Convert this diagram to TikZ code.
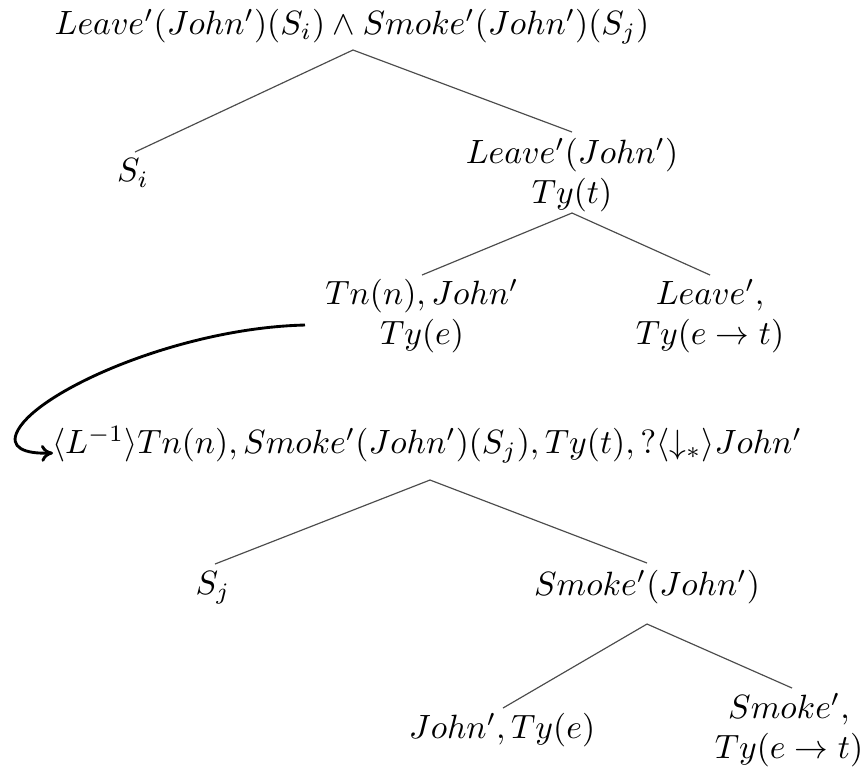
\documentclass[tikz,border=0pt]{standalone}
\usetikzlibrary{arrows.meta}
\begin{document}
\begin{tikzpicture}[x=0.297pt,y=-0.297pt,
  lbl/.style={inner sep=0pt,align=center},
  edge/.style={draw=black!70,line width=0.35pt},
  link/.style={draw=black,line width=0.85pt,-{To[length=3.5pt,width=5pt]}}]
\useasboundingbox (0,0) rectangle (865,767);
% nodes
\node[lbl] (top) at (352,27) {$Leave'(John')(S_i)\wedge Smoke'(John')(S_j)$};
\node[lbl] (si) at (133,173) {$S_i$};
\node[lbl] (lj) at (572,175) {$Leave'(John')$\\$Ty(t)$};
\node[lbl] (tn) at (422,316) {$Tn(n), John'$\\$Ty(e)$};
\node[lbl] (lv) at (710,316) {$Leave',$\\$Ty(e\rightarrow t)$};
\node[lbl] (big) at (427,445) {$\langle L^{-1}\rangle Tn(n), Smoke'(John')(S_j), Ty(t), ?\langle\downarrow_*\rangle John'$};
\node[lbl] (sj) at (213,588) {$S_j$};
\node[lbl] (sm) at (647,587) {$Smoke'(John')$};
\node[lbl] (jt) at (502,730) {$John', Ty(e)$};
\node[lbl] (sv) at (789,730) {$Smoke',$\\$Ty(e\rightarrow t)$};
% attachment points
\coordinate (a1) at (353,50);
\coordinate (si-t) at (135,152);
\coordinate (lj-t) at (572,132);
\coordinate (a2) at (572,213);
\coordinate (tn-t) at (422,275);
\coordinate (lv-t) at (710,275);
\coordinate (a3) at (430,480);
\coordinate (sj-t) at (215,564);
\coordinate (sm-t) at (647,563);
\coordinate (a4) at (647,624);
\coordinate (jt-t) at (503,708);
\coordinate (sv-t) at (792,688);
\coordinate (arr-s) at (305,325);
\coordinate (arr-e) at (53,453);
% edges
\draw[edge] (si-t) -- (a1) -- (lj-t);
\draw[edge] (tn-t) -- (a2) -- (lv-t);
\draw[edge] (sj-t) -- (a3) -- (sm-t);
\draw[edge] (jt-t) -- (a4) -- (sv-t);
% link arrow
\draw[link] (arr-s) .. controls (180,328) and (40,390) .. (18,430)
  .. controls (8,448) and (25,454) .. (arr-e);
\end{tikzpicture}
\end{document}
